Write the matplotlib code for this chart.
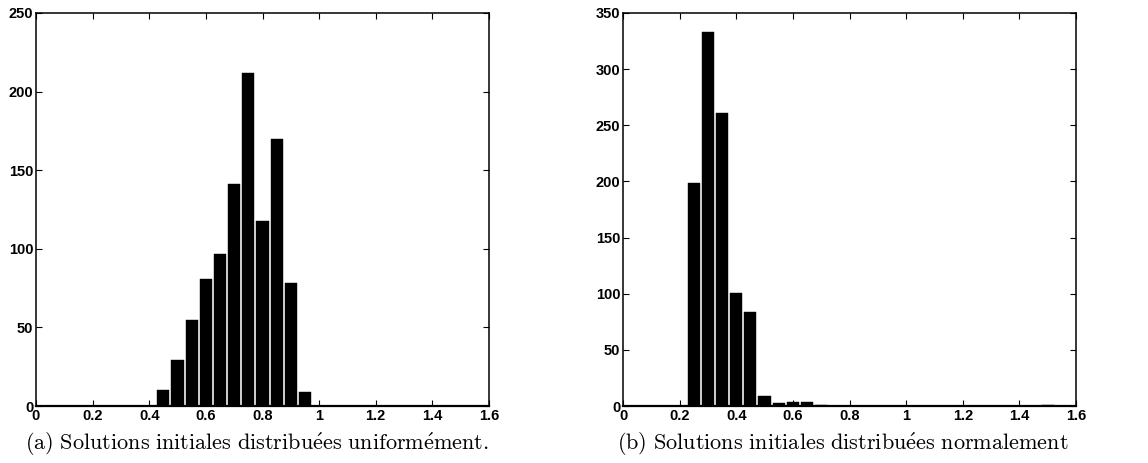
import matplotlib
matplotlib.use("Agg")
import matplotlib.pyplot as plt
from matplotlib.ticker import FuncFormatter

# Histogram bins (centres, width 0.05) and counts for 1000 solutions each
bin_centers = [round(0.05 * i, 2) for i in range(32)]

counts_uniform = [0, 0, 0, 0, 0, 0, 0, 0, 0,
                  10, 29, 55, 81, 97, 141, 212, 118, 170, 78, 9,
                  0, 0, 0, 0, 0, 0, 0, 0, 0, 0, 0, 0]

counts_normal = [0, 0, 0, 0, 0,
                 199, 333, 261, 101, 84, 9, 3, 4, 4, 1,
                 0, 0, 0, 0, 0, 0, 0, 0, 0, 0, 0, 0, 0, 0, 0,
                 1, 0]

x_ticks = [0, 0.2, 0.4, 0.6, 0.8, 1.0, 1.2, 1.4, 1.6]
y_ticks_uniform = [0, 50, 100, 150, 200, 250]
y_ticks_normal = [0, 50, 100, 150, 200, 250, 300, 350]

captions = [
    r"$\mathrm{(a)\ Solutions\ initiales\ distribu\acute{e}es\ uniform\acute{e}ment.}$",
    r"$\mathrm{(b)\ Solutions\ initiales\ distribu\acute{e}es\ normalement}$",
]

plt.rcParams["mathtext.fontset"] = "cm"
plt.rcParams["font.family"] = ["Liberation Sans", "DejaVu Sans"]

W, H = 1148, 463
fig = plt.figure(figsize=(W / 100, H / 100), dpi=100)

# (axes left edge px, counts, y ticks, y max, caption centre px)
panels = [
    (36, counts_uniform, y_ticks_uniform, 250, 257),
    (623, counts_normal, y_ticks_normal, 350, 843),
]

fmt = FuncFormatter(lambda v, p: f"{v:g}")

for (left_px, counts, yt, ymax, cap_x), cap in zip(panels, captions):
    ax = fig.add_axes([left_px / W, (H - 406) / H, 453 / W, 393 / H])
    ax.bar(bin_centers, counts, width=0.043, color="black",
           edgecolor="black", linewidth=0.3, align="center")
    ax.set_xlim(0, 1.6)
    ax.set_ylim(0, ymax)
    ax.set_xticks(x_ticks)
    ax.set_yticks(yt)
    ax.xaxis.set_major_formatter(fmt)
    ax.tick_params(direction="in", length=4, width=0.8, top=True, right=True,
                   labelsize=10.5, pad=2)
    for lab in ax.get_xticklabels() + ax.get_yticklabels():
        lab.set_fontweight("bold")
    for sp in ax.spines.values():
        sp.set_linewidth(1.1)
    ax.spines["bottom"].set_linewidth(1.6)
    fig.text(cap_x / W, (H - 444) / H, cap, ha="center",
             va="center", fontsize=16)

fig.savefig("out.png", dpi=100)
